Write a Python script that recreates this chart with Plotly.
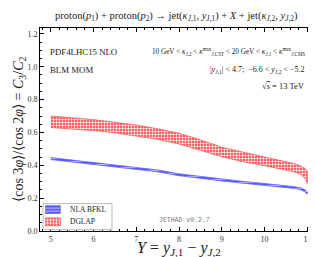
import plotly.graph_objects as go

# ---- data ----
Y = [5.0, 5.5, 6.0, 6.5, 7.0, 7.5, 8.0, 8.5, 9.0, 9.5, 10.0, 10.5, 10.7, 10.85, 10.95, 11.0]
dglap_up = [0.700, 0.690, 0.678, 0.662, 0.645, 0.622, 0.595, 0.555, 0.510, 0.480, 0.450, 0.420, 0.410, 0.395, 0.380, 0.365]
dglap_lo = [0.630, 0.622, 0.612, 0.598, 0.580, 0.558, 0.530, 0.492, 0.452, 0.422, 0.398, 0.372, 0.360, 0.345, 0.320, 0.290]
bfkl_up = [0.447, 0.432, 0.418, 0.403, 0.388, 0.372, 0.348, 0.332, 0.316, 0.302, 0.289, 0.276, 0.270, 0.262, 0.250, 0.236]
bfkl_lo = [0.435, 0.420, 0.406, 0.391, 0.376, 0.360, 0.337, 0.321, 0.305, 0.291, 0.278, 0.265, 0.259, 0.251, 0.238, 0.224]
series_names = ["NLA BFKL", "DGLAP"]
xticks = [5, 6, 7, 8, 9, 10, 11]
yticks = [0.0, 0.2, 0.4, 0.6, 0.8, 1.0, 1.2]

SERIF = "Liberation Serif"

styles = {
    "NLA BFKL": dict(line="#6060ff", bg="#5a5aff", fg="#c8c8ff", shape="-", size=3, sol=0.3),
    "DGLAP": dict(line="#ff5050", bg="#ff2a2a", fg="white", shape=".", size=3, sol=0.5),
}

fig = go.Figure()

def band(x, up, lo, name, xa="x", ya="y"):
    s = styles[name]
    fig.add_trace(go.Scatter(
        x=list(x) + list(x)[::-1], y=list(up) + list(lo)[::-1],
        mode="lines", fill="toself", name=name, showlegend=False,
        line=dict(color=s["line"], width=0.8),
        fillcolor=s["bg"], xaxis=xa, yaxis=ya,
        fillpattern=dict(shape=s["shape"], bgcolor=s["bg"], fgcolor=s["fg"], size=s["size"],
                         solidity=s["sol"], fillmode="replace"),
        hoverinfo="skip"))

band(Y, bfkl_up, bfkl_lo, "NLA BFKL")
band(Y, dglap_up, dglap_lo, "DGLAP")

# custom compact legend drawn on an auxiliary axis
LEG_X = [0.011, 0.259]
LEG_Y = [0.007, 0.135]
for i, name in enumerate(series_names):
    top = 0.92 - i * 0.47
    band([0.03, 0.25], [top, top], [top - 0.3, top - 0.3], name, "x2", "y2")

axis_common = dict(showline=True, linecolor="black", linewidth=1, mirror="allticks",
                   ticks="inside", ticklen=4, tickwidth=0.8, tickcolor="black",
                   showgrid=False, zeroline=False,
                   tickfont=dict(family=SERIF, size=8, color="#333"))

fig.update_layout(
    xaxis=dict(range=[4.75, 11.25], tickvals=xticks, ticktext=[str(v) for v in xticks],
               minor=dict(dtick=0.2, ticks="inside", ticklen=2, tickcolor="black", showgrid=False),
               **axis_common),
    yaxis=dict(range=[0, 1.236], tickvals=yticks, ticktext=["%.1f" % v for v in yticks],
               minor=dict(dtick=0.05, ticks="inside", ticklen=2, tickcolor="black", showgrid=False),
               **axis_common),
    xaxis2=dict(domain=LEG_X, range=[0, 1], visible=False, anchor="y2", fixedrange=True),
    yaxis2=dict(domain=LEG_Y, range=[0, 1], visible=False, anchor="x2", fixedrange=True),
)

ann = []
def A(x, y, text, size, xanchor="center", family=SERIF, color="#222", xref="paper", yref="paper"):
    ann.append(dict(x=x, y=y, xref=xref, yref=yref, text=text, showarrow=False,
                    xanchor=xanchor, yanchor="middle", font=dict(family=family, size=size, color=color)))

A(0.49, 1.056, "proton(<i>p</i><sub>1</sub>) + proton(<i>p</i><sub>2</sub>) → jet(<i>κ</i><sub><i>J</i>,1</sub>, <i>y</i><sub><i>J</i>,1</sub>) + <i>X</i> + jet(<i>κ</i><sub><i>J</i>,2</sub>, <i>y</i><sub><i>J</i>,2</sub>)", 10.5)
A(0.03, 0.883, "PDF4LHC15 NLO", 8.8, "left")
A(0.03, 0.795, "BLM MOM", 8.8, "left")
A(0.96, 0.883, "10 GeV &lt; <i>κ</i><sub><i>J</i>,2</sub> &lt; <i>κ</i><sup>max</sup><sub><i>J</i>,CST</sub> &lt; 20 GeV &lt; <i>κ</i><sub><i>J</i>,1</sub> &lt; <i>κ</i><sup>max</sup><sub><i>J</i>,CMS</sub>", 7.2, "right")
A(0.96, 0.795, "|<i>y</i><sub><i>J</i>,1</sub>| &lt; 4.7;  −6.6 &lt; <i>y</i><sub><i>J</i>,2</sub> &lt; −5.2", 8, "right")
A(0.96, 0.712, "√<span style='text-decoration:overline'><i>s</i></span> = 13 TeV", 8.5, "right")
A(0.52, 0.05, "JETHAD v0.2.7", 6.5, "center", family="Liberation Mono", color="#777")
A(0.5, -0.088, "<i>Y</i> = <i>y</i><sub><i>J</i>,1</sub> − <i>y</i><sub><i>J</i>,2</sub>", 16)
for i, name in enumerate(series_names):
    A(0.36, 0.77 - i * 0.47, name, 7.5, "left", xref="x2", yref="y2")
ann.append(dict(x=-0.075, y=0.5, xref="paper", yref="paper", textangle=-90, showarrow=False,
                text="⟨cos 3<i>φ</i>⟩/⟨cos 2<i>φ</i>⟩ = <i>C</i><sub>3</sub>/<i>C</i><sub>2</sub>",
                xanchor="center", yanchor="middle", font=dict(family=SERIF, size=14, color="#222")))

fig.update_layout(
    width=316, height=257,
    margin=dict(l=32, r=5.5, t=20, b=33.5),
    plot_bgcolor="white", paper_bgcolor="white",
    annotations=ann,
    showlegend=False,
    shapes=[dict(type="rect", xref="paper", yref="paper", x0=LEG_X[0], x1=LEG_X[1],
                 y0=LEG_Y[0], y1=LEG_Y[1], line=dict(color="#bbbbbb", width=1),
                 fillcolor="rgba(0,0,0,0)", layer="above")],
)

fig.write_html("out.html")
